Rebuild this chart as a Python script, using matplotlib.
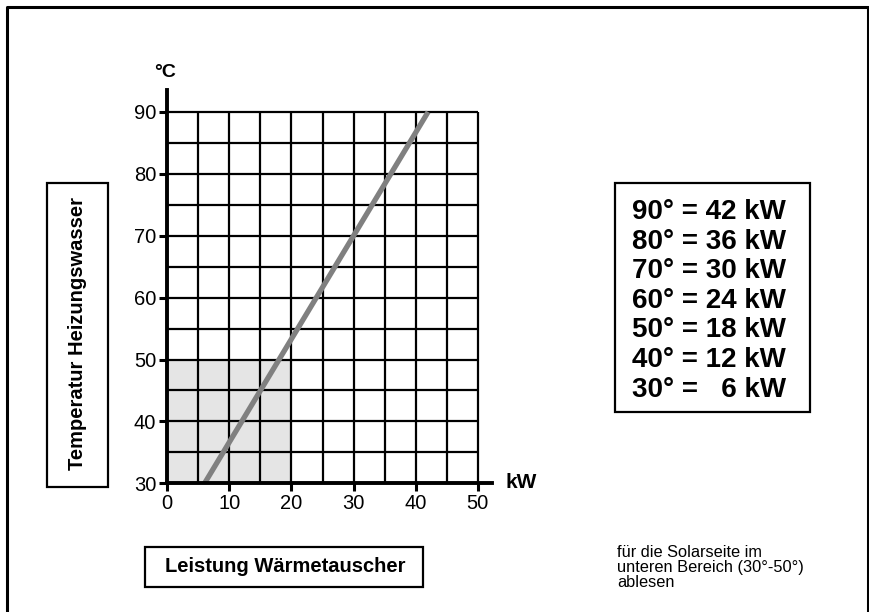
import matplotlib
matplotlib.use("Agg")
import matplotlib.pyplot as plt
from matplotlib.patches import Rectangle

plt.rcParams["font.family"] = ["Liberation Sans", "DejaVu Sans"]

# data
temps = [30, 40, 50, 60, 70, 80, 90]          # °C
power = [6, 12, 18, 24, 30, 36, 42]           # kW
x_ticks = [0, 10, 20, 30, 40, 50]
y_ticks = [30, 40, 50, 60, 70, 80, 90]
solar_range_kw = [0, 20]
solar_range_temp = [30, 50]
table_lines = ["90\u00b0 = 42 kW", "80\u00b0 = 36 kW", "70\u00b0 = 30 kW",
               "60\u00b0 = 24 kW", "50\u00b0 = 18 kW", "40\u00b0 = 12 kW",
               "30\u00b0 =   6 kW"]

W, H = 870, 612
fig = plt.figure(figsize=(W / 100, H / 100), dpi=100)


def fx(px):
    return px / W


def fy(py):
    return 1 - py / H


# outer frame (open at the bottom)
fig.add_artist(plt.Line2D([fx(7), fx(7), fx(868), fx(868)],
                          [0, fy(7), fy(7), 0], color="black", lw=2.2))

ax = fig.add_axes([fx(167.3), fy(483.3), (52.3 * 6.21) / W, (63.5 * 6.19) / H])
ax.set_xlim(0, 52.3)
ax.set_ylim(30, 93.5)
ax.patch.set_alpha(0)

# shaded solar range
ax.add_patch(Rectangle((solar_range_kw[0], solar_range_temp[0]),
                       solar_range_kw[1] - solar_range_kw[0],
                       solar_range_temp[1] - solar_range_temp[0],
                       facecolor="#e5e5e5", edgecolor="none", zorder=0))

# grid every 5 units inside 0-50 / 30-90
for v in range(5, 55, 5):
    ax.plot([v, v], [30, 90], color="black", lw=1.6, zorder=1,
            solid_capstyle="butt")
for v in range(35, 95, 5):
    ax.plot([0, 50], [v, v], color="black", lw=1.6, zorder=1,
            solid_capstyle="butt")

ax.plot(power, temps, color="#808080", lw=3.8, zorder=3, solid_capstyle="butt")

for side in ["top", "right"]:
    ax.spines[side].set_visible(False)
for side in ["left", "bottom"]:
    ax.spines[side].set_linewidth(2.8)
    ax.spines[side].set_zorder(4)

ax.set_xticks(x_ticks)
ax.set_yticks(y_ticks)
ax.tick_params(direction="out", length=6, width=2.2, labelsize=14.5, pad=2)

ax.text(-0.4, 96.3, "\u00b0C", fontsize=14, fontweight="bold",
        ha="center", va="center", clip_on=False)
ax.text(57, 30.2, "kW", fontsize=15, fontweight="bold",
        ha="center", va="center")

# y label box
fig.add_artist(Rectangle((fx(47), fy(487)), fx(108) - fx(47), fy(183) - fy(487),
                         transform=fig.transFigure, fill=False,
                         edgecolor="black", lw=1.6))
fig.text(fx(77.5), fy(333), "Temperatur Heizungswasser", rotation=90,
         fontsize=14.5, fontweight="bold", ha="center", va="center")

# x label box
fig.add_artist(Rectangle((fx(145), fy(587)), fx(423) - fx(145), fy(547) - fy(587),
                         transform=fig.transFigure, fill=False,
                         edgecolor="black", lw=1.6))
fig.text(fx(285), fy(567), "Leistung W\u00e4rmetauscher",
         fontsize=14.5, fontweight="bold", ha="center", va="center")

# value table
fig.add_artist(Rectangle((fx(615), fy(412)), fx(810) - fx(615), fy(183) - fy(412),
                         transform=fig.transFigure, fill=False,
                         edgecolor="black", lw=1.6))
for i, line in enumerate(table_lines):
    fig.text(fx(632), fy(212 + i * 29.6), line, fontsize=20,
             fontweight="bold", ha="left", va="center")

fig.text(fx(617), fy(545), "f\u00fcr die Solarseite im\nunteren Bereich (30\u00b0-50\u00b0)\nablesen",
         fontsize=11.8, ha="left", va="top", linespacing=1.0)

fig.savefig("out.png", dpi=100)
